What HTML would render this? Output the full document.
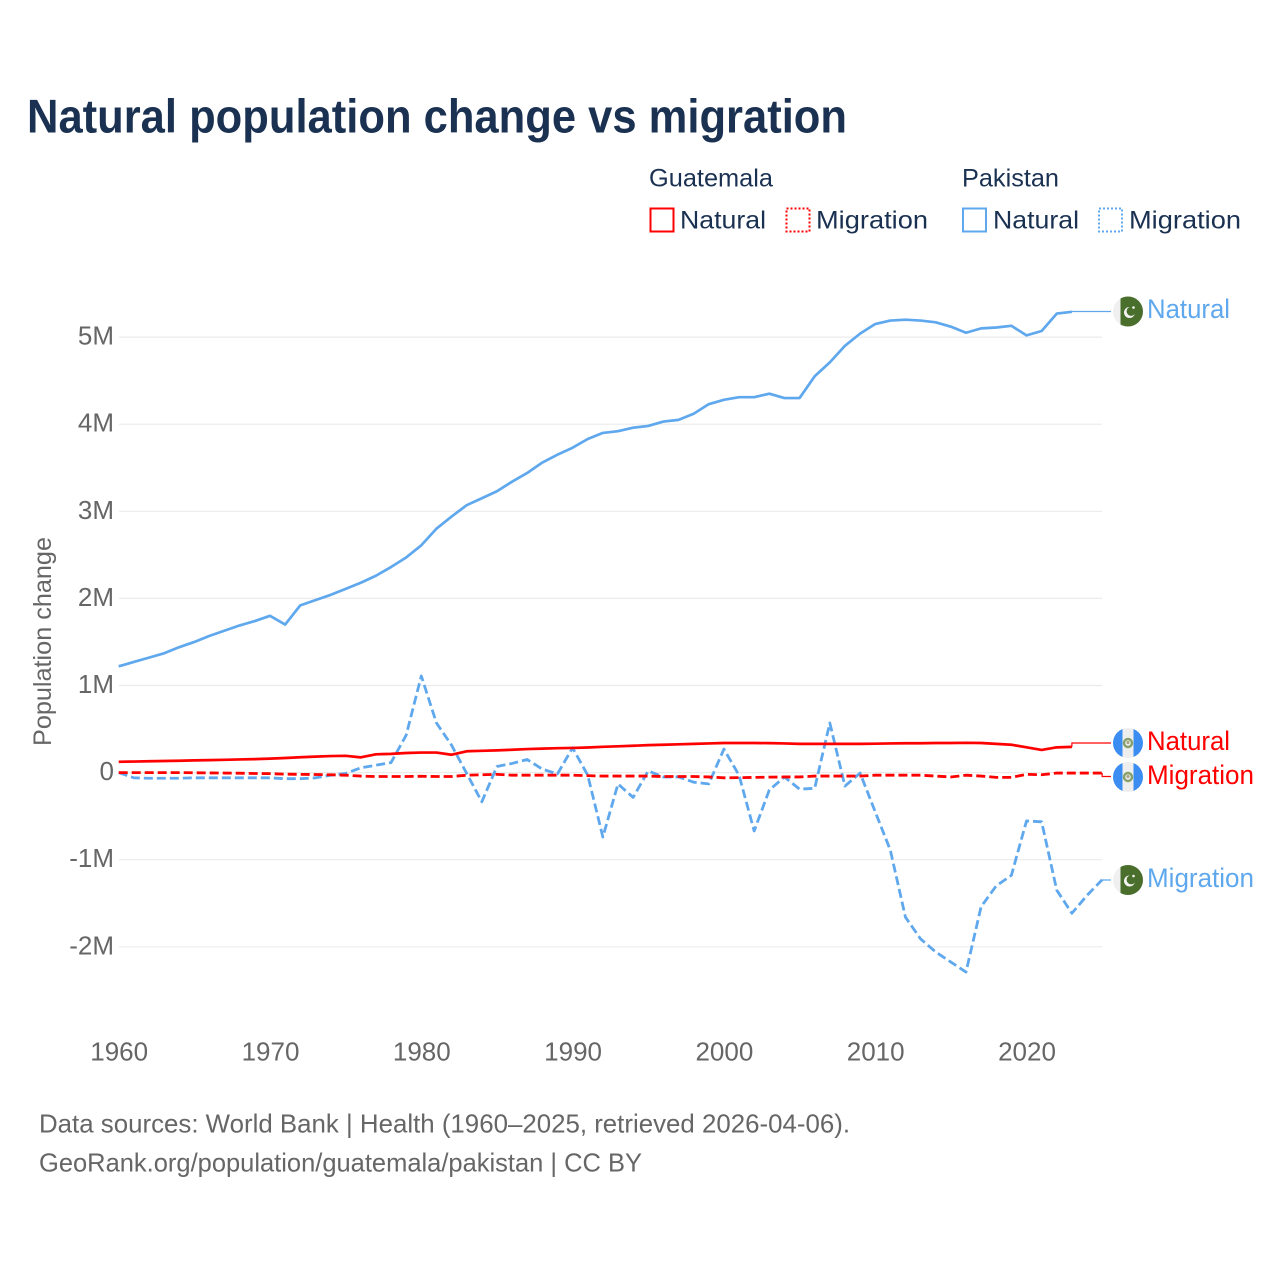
<!DOCTYPE html>
<html lang="en">
<head>
<meta charset="utf-8">
<title>Natural population change vs migration</title>
<style>
html,body{margin:0;padding:0;background:#fff}
svg{display:block}
text{font-family:"Liberation Sans",sans-serif}
</style>
</head>
<body>
<svg id="chart" width="1280" height="1280" viewBox="0 0 1280 1280" xmlns="http://www.w3.org/2000/svg">
  <text x="27" y="132.7" font-size="47" font-weight="700" fill="#1a3152" textLength="820" lengthAdjust="spacingAndGlyphs">Natural population change vs migration</text>

  <g>
    <text x="649" y="186.7" font-size="25" fill="#1a3152" textLength="124" lengthAdjust="spacingAndGlyphs">Guatemala</text>
    <text x="962" y="186.7" font-size="25" fill="#1a3152" textLength="97" lengthAdjust="spacingAndGlyphs">Pakistan</text>
    <rect x="650.5" y="208.5" width="23" height="23" fill="none" stroke="#ff0000" stroke-width="2"/>
    <text x="680" y="228.5" font-size="25" fill="#1a3152" textLength="86" lengthAdjust="spacingAndGlyphs">Natural</text>
    <rect x="786.5" y="208.5" width="23" height="23" fill="none" stroke="#ff0000" stroke-width="2" stroke-dasharray="2 2"/>
    <text x="816" y="228.5" font-size="25" fill="#1a3152" textLength="112" lengthAdjust="spacingAndGlyphs">Migration</text>
    <rect x="963" y="208.5" width="23" height="23" fill="none" stroke="#5fa8ee" stroke-width="2"/>
    <text x="993" y="228.5" font-size="25" fill="#1a3152" textLength="86" lengthAdjust="spacingAndGlyphs">Natural</text>
    <rect x="1099" y="208.5" width="23" height="23" fill="none" stroke="#5fa8ee" stroke-width="2" stroke-dasharray="2 2"/>
    <text x="1129" y="228.5" font-size="25" fill="#1a3152" textLength="112" lengthAdjust="spacingAndGlyphs">Migration</text>
  </g>

  <g id="grid"></g>
  <g id="yticks"></g>
  <g id="xticks"></g>
  <text transform="translate(51 746) rotate(-90)" font-size="25" fill="#666666" textLength="209" lengthAdjust="spacingAndGlyphs">Population change</text>
  <g id="series"></g>
  <g id="ends"></g>

  <text x="39" y="1132.7" font-size="26" fill="#666666" textLength="811" lengthAdjust="spacingAndGlyphs">Data sources: World Bank | Health (1960–2025, retrieved 2026-04-06).</text>
  <text x="39" y="1171.7" font-size="26" fill="#666666" textLength="603" lengthAdjust="spacingAndGlyphs">GeoRank.org/population/guatemala/pakistan | CC BY</text>
</svg>
<script>
var startYear = 1960;
var yTickValues = [-2, -1, 0, 1, 2, 3, 4, 5];
var yTickLabels = ["-2M", "-1M", "0", "1M", "2M", "3M", "4M", "5M"];
var xTickValues = [1960, 1970, 1980, 1990, 2000, 2010, 2020];
var xTickLabels = ["1960", "1970", "1980", "1990", "2000", "2010", "2020"];

/* values in millions, one per year from 1960 */
var pakistanNatural = [1.22,1.27,1.32,1.37,1.44,1.50,1.57,1.63,1.69,1.74,1.80,1.70,1.92,1.98,2.04,2.11,2.18,2.26,2.36,2.47,2.61,2.80,2.94,3.07,3.15,3.23,3.34,3.44,3.56,3.65,3.73,3.83,3.90,3.92,3.96,3.98,4.03,4.05,4.12,4.23,4.28,4.31,4.31,4.35,4.30,4.30,4.55,4.71,4.90,5.04,5.15,5.19,5.20,5.19,5.17,5.12,5.05,5.10,5.11,5.13,5.02,5.07,5.27,5.29];
var pakistanMigration = [0,-0.06,-0.065,-0.065,-0.065,-0.06,-0.06,-0.06,-0.06,-0.06,-0.06,-0.07,-0.07,-0.06,-0.03,-0.01,0.055,0.085,0.115,0.43,1.11,0.57,0.315,-0.01,-0.335,0.07,0.105,0.15,0.04,-0.015,0.285,-0.03,-0.74,-0.13,-0.285,0.02,-0.05,-0.05,-0.11,-0.13,0.27,-0.03,-0.67,-0.2,-0.05,-0.19,-0.18,0.57,-0.155,-0.005,-0.45,-0.89,-1.66,-1.91,-2.06,-2.175,-2.29,-1.54,-1.30,-1.18,-0.555,-0.565,-1.35,-1.615,-1.41,-1.23];
var guatemalaNatural = [0.124,0.127,0.13,0.133,0.136,0.14,0.143,0.147,0.151,0.155,0.16,0.168,0.176,0.183,0.19,0.193,0.175,0.21,0.215,0.225,0.23,0.23,0.205,0.245,0.25,0.255,0.262,0.27,0.275,0.28,0.283,0.288,0.296,0.302,0.308,0.315,0.32,0.325,0.33,0.335,0.34,0.34,0.34,0.338,0.335,0.33,0.33,0.33,0.33,0.33,0.332,0.335,0.337,0.337,0.34,0.34,0.342,0.34,0.33,0.32,0.29,0.26,0.29,0.295];
var guatemalaMigration = [0,0,0,0,0,-0.002,-0.004,-0.005,-0.007,-0.01,-0.012,-0.018,-0.02,-0.022,-0.025,-0.03,-0.04,-0.045,-0.045,-0.045,-0.042,-0.045,-0.045,-0.03,-0.025,-0.02,-0.03,-0.03,-0.03,-0.03,-0.03,-0.035,-0.04,-0.04,-0.04,-0.04,-0.045,-0.045,-0.045,-0.05,-0.06,-0.058,-0.055,-0.052,-0.05,-0.05,-0.04,-0.04,-0.04,-0.04,-0.03,-0.03,-0.03,-0.03,-0.04,-0.05,-0.03,-0.04,-0.055,-0.055,-0.02,-0.025,-0.005,-0.005,-0.005,-0.005];

var NS = "http://www.w3.org/2000/svg";
function xScale(year) { return 118.7 + (year - 1960) * 15.13; }
function yScale(value) { return 772.6 - value * 87.1; }
function make(tag, attrs, parent) {
  var el = document.createElementNS(NS, tag);
  for (var k in attrs) el.setAttribute(k, attrs[k]);
  parent.appendChild(el);
  return el;
}
function linePath(values) {
  return values.map(function (v, i) {
    return (i ? "L" : "M") + xScale(startYear + i).toFixed(2) + " " + yScale(v).toFixed(2);
  }).join("");
}

var gridG = document.getElementById("grid");
var yG = document.getElementById("yticks");
yTickValues.forEach(function (v, i) {
  var line = make("line", {x1: 119, x2: 1102, y1: yScale(v), y2: yScale(v), stroke: "#ebebeb", "stroke-width": 1.2}, gridG);
  
  
  var t = make("text", {x: 114, y: yScale(v) + 7.5, "text-anchor": "end", "font-size": 26, fill: "#666666"}, yG);
  
  
  t.textContent = yTickLabels[i];
});

var xG = document.getElementById("xticks");
xTickValues.forEach(function (v, i) {
  var t = make("text", {x: xScale(v) + 0.5, y: 1060.5, "text-anchor": "middle", "font-size": 26, fill: "#666666"}, xG);
  
  
  t.textContent = xTickLabels[i];
});

var sG = document.getElementById("series");
var eG = document.getElementById("ends");

function drawSeries(values, color, dashed, seriesName) {
  var p = make("path", {d: linePath(values), fill: "none", stroke: color, "stroke-width": dashed ? 2.8 : 2.7, "stroke-linejoin": "round"}, sG);
  if (dashed) p.setAttribute("stroke-dasharray", "9 4");
  
  
}
function drawConnector(values, labelY, color) {
  var i = values.length - 1;
  var x0 = xScale(startYear + i), y0 = yScale(values[i]);
  var c = make("path", {d: "M" + x0 + " " + y0 + "L" + x0 + " " + labelY + "L1111 " + labelY, fill: "none", stroke: color, "stroke-width": 1.2}, sG);
  
  
}

drawSeries(pakistanNatural, "#5fa8ee", false, "line-pakistan-natural");
drawSeries(pakistanMigration, "#5fa8ee", true, "line-pakistan-migration");
drawSeries(guatemalaNatural, "#ff0000", false, "line-guatemala-natural");
drawSeries(guatemalaMigration, "#ff0000", true, "line-guatemala-migration");
drawConnector(pakistanNatural, 311.5, "#5fa8ee");
drawConnector(pakistanMigration, 880, "#5fa8ee");
drawConnector(guatemalaNatural, 743, "#ff0000");
drawConnector(guatemalaMigration, 776.5, "#ff0000");

var clipCount = 0;
function flag(cy, country) {
  var cx = 1128, r = 15;
  var id = "flag-clip-" + (clipCount++);
  var cp = make("clipPath", {id: id}, eG);
  make("circle", {cx: cx, cy: cy, r: r}, cp);
  var g = make("g", {"clip-path": "url(#" + id + ")"}, eG);
  
  
  if (country === "pk") {
    make("rect", {x: cx - r, y: cy - r, width: 30, height: 30, fill: "#f0f0f0"}, g);
    make("rect", {x: cx - 7.5, y: cy - r, width: 22.5, height: 30, fill: "#4a6e2c"}, g);
    make("circle", {cx: cx + 1.5, cy: cy + 1, r: 5.5, fill: "#f4f4f4"}, g);
    make("circle", {cx: cx + 3.2, cy: cy - 0.2, r: 4.6, fill: "#4a6e2c"}, g);
    make("circle", {cx: cx + 5.5, cy: cy - 4, r: 1.3, fill: "#f4f4f4"}, g);
  } else {
    make("rect", {x: cx - r, y: cy - r, width: 30, height: 30, fill: "#eeeeee"}, g);
    make("rect", {x: cx - r, y: cy - r, width: 9.5, height: 30, fill: "#3b8df2"}, g);
    make("rect", {x: cx + 5.5, y: cy - r, width: 9.5, height: 30, fill: "#3b8df2"}, g);
    make("circle", {cx: cx, cy: cy, r: 4, fill: "none", stroke: "#86a06a", "stroke-width": 2.4}, g);
    make("circle", {cx: cx, cy: cy - 0.5, r: 1.6, fill: "#a8a888"}, g);
  }
}
function endLabel(y, text, width, color) {
  var t = make("text", {x: 1147, y: y + 9, "font-size": 27, fill: color, textLength: width, lengthAdjust: "spacingAndGlyphs"}, eG);
  
  
  t.textContent = text;
}
flag(311.5, "pk"); endLabel(309, "Natural", 83, "#5fa8ee");
flag(743, "gt"); endLabel(741, "Natural", 83, "#ff0000");
flag(777, "gt"); endLabel(775, "Migration", 107, "#ff0000");
flag(880, "pk"); endLabel(878, "Migration", 107, "#5fa8ee");
</script>
</body>
</html>
